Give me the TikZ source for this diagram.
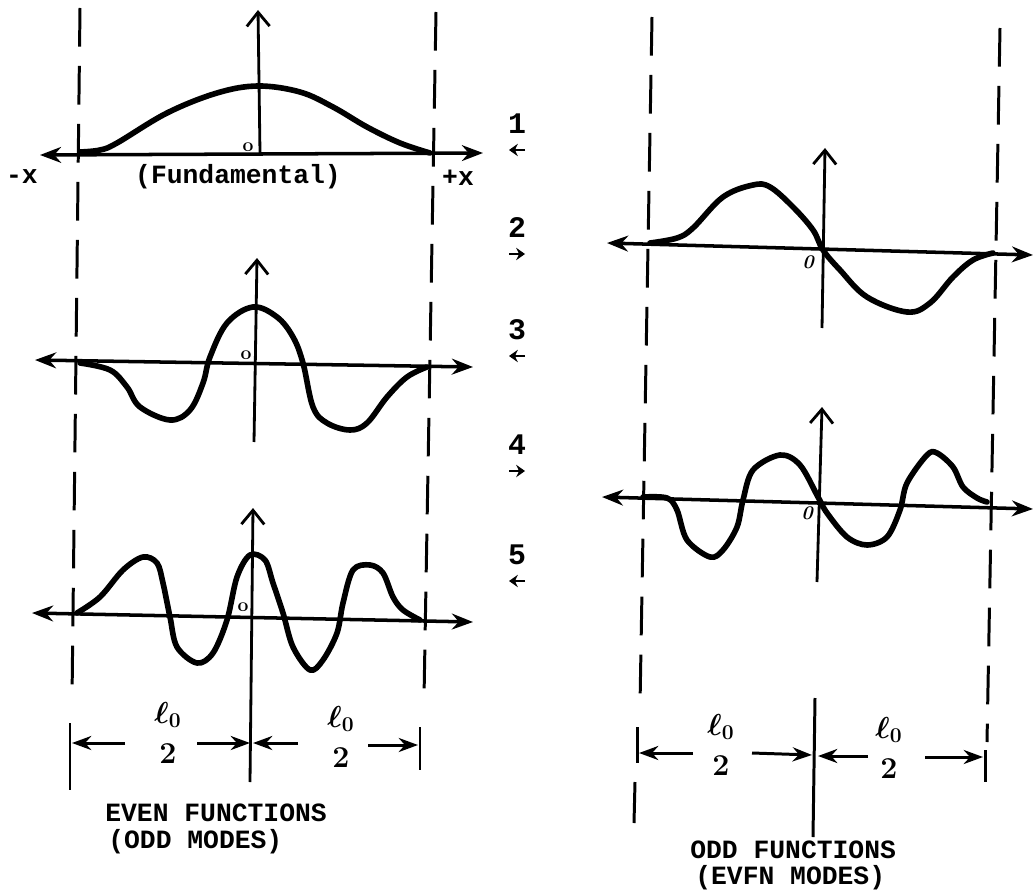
\documentclass[tikz,border=0pt]{standalone}
\usepackage{amsmath}
\usepackage{fontspec}
\setmonofont{Liberation Mono}
\usetikzlibrary{arrows.meta}

\begin{document}
\begin{tikzpicture}[x=0.02cm,y=-0.02cm,
  font=\ttfamily\bfseries\fontsize{15}{17}\selectfont,
  axis/.style={line width=2pt,{Stealth[length=12pt,width=9pt]}-{Stealth[length=12pt,width=9pt]}},
  vaxis/.style={line width=1.6pt,-{Straight Barb[length=8pt,width=13pt,line width=1.6pt]}},
  wave/.style={line width=3.2pt,line join=round,line cap=round},
  guide/.style={line width=1.7pt,dash pattern=on 22pt off 11pt},
  tick/.style={line width=1.7pt},
  dimline/.style={line width=1.7pt,-{Stealth[length=11pt,width=8pt]}},
  tagarrow/.style={line width=1.6pt,-{Stealth[length=5pt,width=7pt]}},
  origin/.style={inner sep=0pt,font=\rmfamily\bfseries\fontsize{11}{12}\selectfont},
  half/.style={inner sep=0pt,align=center,font=\boldmath\fontsize{18}{23}\selectfont}]
  \useasboundingbox (0,0) rectangle (1034,895);

  % guide lines
  \draw[guide] (80,8) -- (72,700);
  \draw[guide] (436,12) -- (424,698);
  \draw[guide] (652,17) -- (640,705);
  \draw[guide] (1000,28) -- (987,742);
  \draw[tick] (70,723) -- (70,790);
  \draw[tick] (420,727) -- (420,770);
  \draw[tick] (637,727) -- (637,763);
  \draw[tick] (635,782) -- (634,823);
  \draw[tick] (985,750) -- (985,782);

  % left: even functions
  \draw[axis] (40,155) -- (483,153);
  \draw[vaxis] (260,153) -- (258,10);
  \draw[wave] plot[smooth,tension=0.6] coordinates {(80,152) (100,150) (117,143)
    (167,113) (217,93) (258,86) (300,92) (333,107) (367,127) (400,143) (430,153)};
  \node[origin] (o1) at (248,147) {o};
  \node (mx) at (22,177) {-x};
  \node (px) at (458,178) {+x};
  \node (fund) at (238,177) {(Fundamental)};

  \draw[axis] (35,360) -- (473,367);
  \draw[vaxis] (254,442) -- (257,258);
  \draw[wave] plot[smooth,tension=0.6] coordinates {(80,363) (110,370) (127,387)
    (140,407) (170,420) (190,410) (203,383) (210,357) (227,323) (253,307) (277,317)
    (293,337) (303,363) (313,407) (327,423) (350,430) (367,423) (387,397) (407,377) (427,367)};
  \node[origin] (o3) at (246,355) {o};

  \draw[axis] (32,613) -- (473,622);
  \draw[vaxis] (250,782) -- (253,508);
  \draw[wave] plot[smooth,tension=0.55] coordinates {(77,613) (100,597) (123,570)
    (143,557) (157,563) (163,583) (170,617) (177,647) (197,663) (213,653) (227,620)
    (237,577) (250,555) (265,560) (273,583) (283,613) (293,647) (310,670) (323,660)
    (337,633) (343,603) (353,570) (370,565) (383,573) (393,597) (403,610) (420,620)};
  \node[origin] (o5) at (243,607) {o};

  \draw[dimline] (125,743) -- (72,743);
  \draw[dimline] (197,743) -- (250,743);
  \draw[dimline] (298,743) -- (253,743);
  \draw[dimline] (368,745) -- (418,745);
  \node[half] (hl1) at (168,733) {$\ell_{0}$\\$2$};
  \node[half] (hl2) at (341,737) {$\ell_{0}$\\$2$};
  \node[anchor=west,inner sep=0pt] (even) at (105,813) {EVEN FUNCTIONS};
  \node[anchor=west,inner sep=0pt] (oddm) at (108,842) {(ODD MODES)};

  % mode numbers
  \foreach \k/\ty/\dir in {1/124/-1,2/228/1,3/330/-1,4/445/1,5/555/-1}{
    \node[inner sep=0pt,font=\ttfamily\bfseries\fontsize{17}{19}\selectfont] (n\k) at (517,\ty) {\k};
    \draw[tagarrow] (517-8*\dir,\ty+26) -- (517+8*\dir,\ty+26);
  }

  % right: odd functions
  \draw[axis] (607,243) -- (1033,255);
  \draw[vaxis] (822,328) -- (825,148);
  \draw[wave] plot[smooth,tension=0.6] coordinates {(650,243) (677,238) (693,228)
    (723,197) (753,185) (770,187) (793,207) (813,230) (823,250) (840,270) (867,297)
    (907,312) (930,303) (953,277) (973,260) (993,253)};
  \node[origin,font=\rmfamily\bfseries\itshape\fontsize{11}{12}\selectfont] (o2) at (808,262) {0};

  \draw[axis] (602,497) -- (1033,509);
  \draw[vaxis] (817,582) -- (822,407);
  \draw[wave] plot[smooth,tension=0.55] coordinates {(643,497) (667,498) (677,510)
    (687,540) (710,557) (723,550) (737,527) (743,500) (753,470) (780,455) (800,465)
    (818,497) (827,513) (847,537) (867,545) (887,537) (900,510) (907,483) (927,455)
    (937,453) (953,467) (963,487) (977,498) (987,502)};
  \node[origin,font=\rmfamily\bfseries\itshape\fontsize{11}{12}\selectfont] (o4) at (807,513) {0};

  \draw[tick] (815,698) -- (813,837);
  \draw[dimline] (693,753) -- (639,753);
  \draw[dimline] (752,753) -- (812,755);
  \draw[dimline] (868,756) -- (818,756);
  \draw[dimline] (925,757) -- (983,757);
  \node[half] (hr1) at (721,745) {$\ell_{0}$\\$2$};
  \node[half] (hr2) at (889,748) {$\ell_{0}$\\$2$};
  \node[anchor=west,inner sep=0pt] (odd) at (690,850) {ODD FUNCTIONS};
  \node[anchor=west,inner sep=0pt] (evenm) at (695,878) {(EVFN MODES)};
\end{tikzpicture}
\end{document}
